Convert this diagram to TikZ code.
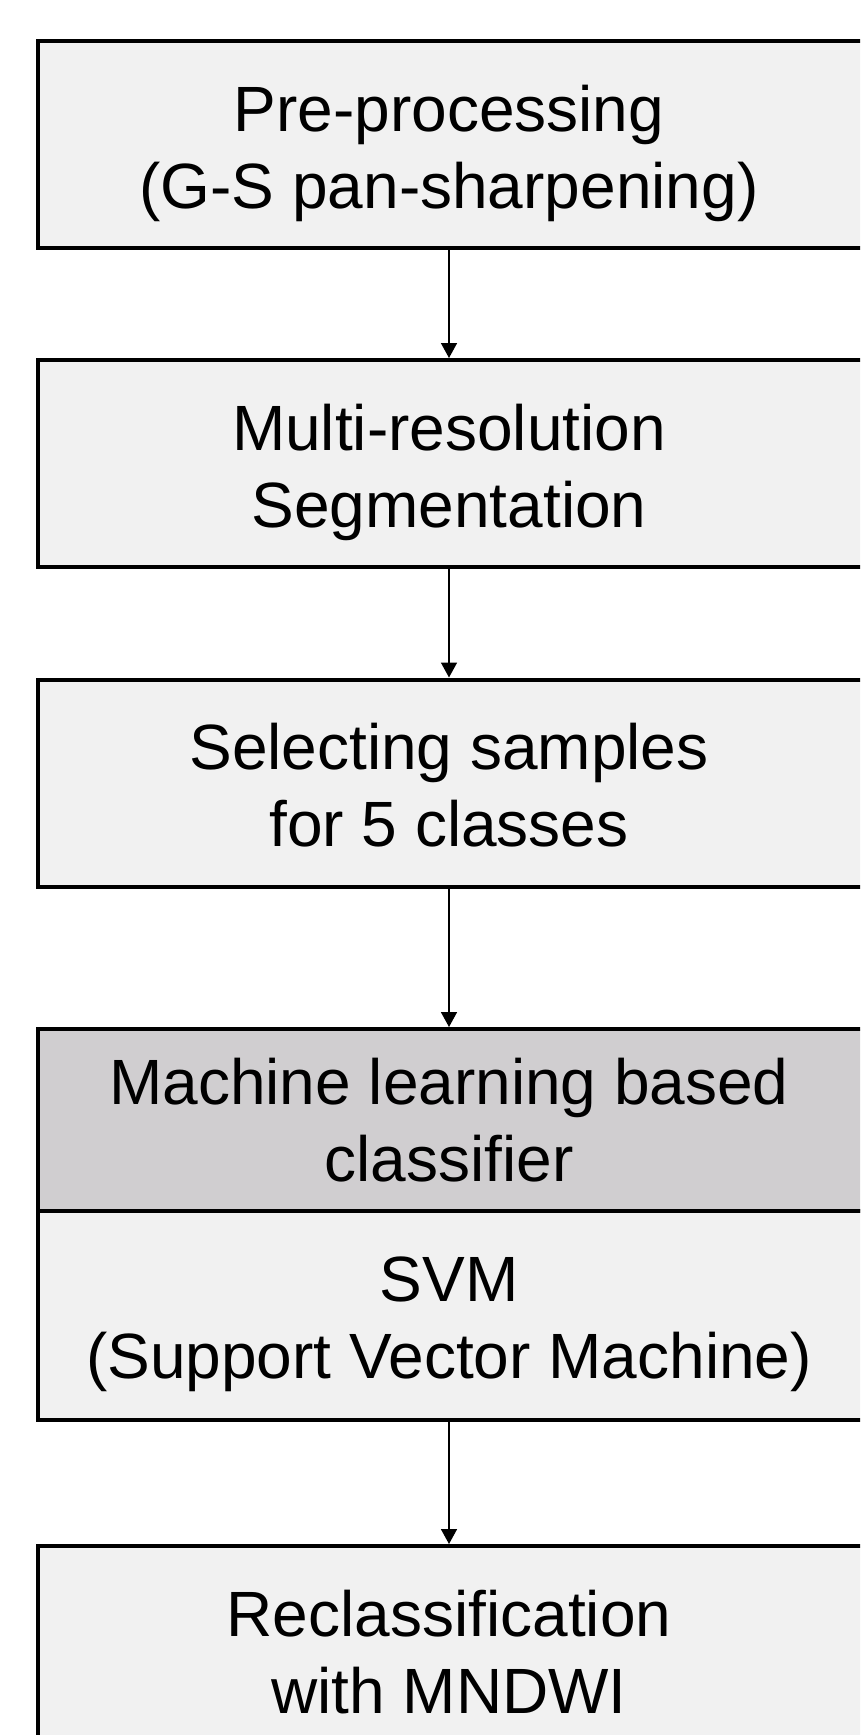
\documentclass[tikz,border=0pt]{standalone}
\usepackage{fontspec}
\setmainfont{Liberation Sans}
\usetikzlibrary{arrows.meta}
\definecolor{boxfill}{HTML}{F1F1F1}
\definecolor{headfill}{HTML}{D0CED0}
\newcommand{\boxlines}[2]{\hspace*{-20pt}\begin{tabular}[b]{@{}c@{}}#1\\#2\end{tabular}}
\begin{document}
\begin{tikzpicture}[x=1pt,y=-1pt,
  stepbox/.style={draw=black, line width=4pt, fill=boxfill, minimum width=842pt,
    minimum height=207pt, inner sep=0pt,
    text height=127pt, text depth=0pt,
    font=\fontsize{64}{77}\selectfont},
  conn/.style={line width=1.6pt, -{Triangle[width=16pt,length=15pt]}}]
\useasboundingbox (0,0) rectangle (860,1735);
\clip (0,0) rectangle (860,1735);
\coordinate (ax) at (449,0);
\node[stepbox] (b1) at (459,144.5) {\boxlines{Pre-processing}{(G-S pan-sharpening)}};
\node[stepbox] (b2) at (459,463.5) {\boxlines{Multi-resolution}{Segmentation}};
\node[stepbox] (b3) at (459,783) {\boxlines{Selecting samples}{for 5 classes}};
\node[stepbox, fill=headfill, minimum height=181.5pt, text height=124pt] (b4h) at (459,1119.75) {\boxlines{Machine learning based}{classifier}};
\node[stepbox, minimum height=209.5pt] (b4) at (459,1315.25) {\boxlines{SVM}{(Support Vector Machine)}};
\node[stepbox] (b5) at (459,1649.5) {\boxlines{Reclassification}{with MNDWI}};
\draw[conn] (b1.south -| ax) -- (b2.north -| ax);
\draw[conn] (b2.south -| ax) -- (b3.north -| ax);
\draw[conn] (b3.south -| ax) -- (b4h.north -| ax);
\draw[conn] (b4.south -| ax) -- (b5.north -| ax);
\end{tikzpicture}
\end{document}
